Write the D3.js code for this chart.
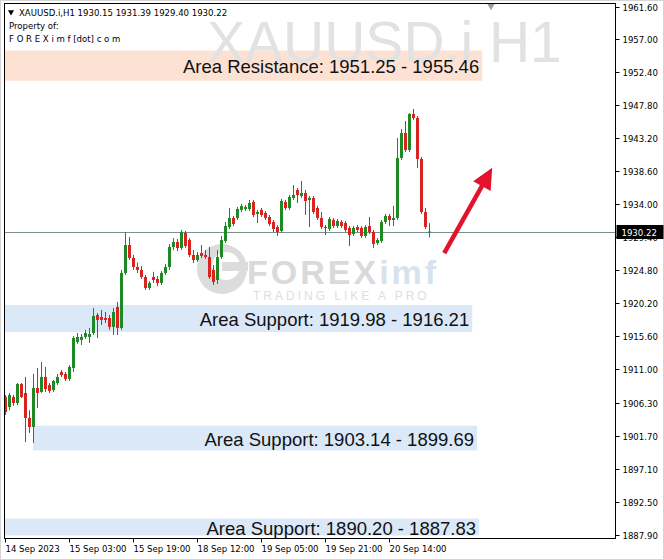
<!DOCTYPE html>
<html><head><meta charset="utf-8">
<script src="https://cdn.jsdelivr.net/npm/d3@7"></script>
<style>
html,body{margin:0;padding:0;background:#fff;}
svg{display:block;}
.ax{font-family:"DejaVu Sans Condensed","Liberation Sans",Arial,sans-serif;font-size:9.5px;fill:#000;}
</style></head>
<body>
<svg id="c" width="664" height="560"></svg>
<script>
// ---------- data ----------
const symbol = "XAUUSD.i";
const timeframe = "H1";
const opens = [1907.15,1905.75,1907.15,1906.31,1908.96,1907.71,1904.22,1902.96,1908.40,1907.85,1909.94,1908.82,1908.12,1909.10,1910.63,1910.36,1909.66,1911.19,1914.82,1915.10,1915.52,1915.52,1916.07,1918.58,1918.30,1918.16,1918.16,1916.91,1919.70,1916.77,1924.44,1928.34,1926.53,1925.28,1924.86,1923.88,1922.35,1923.88,1923.60,1923.05,1924.44,1925.28,1928.07,1928.76,1927.93,1930.02,1929.04,1926.95,1926.25,1927.23,1926.95,1926.67,1924.86,1923.46,1926.67,1928.90,1930.85,1932.11,1932.11,1933.23,1933.36,1933.36,1934.34,1932.67,1933.23,1932.81,1932.25,1931.55,1930.85,1930.30,1934.34,1933.50,1934.90,1936.01,1935.18,1935.60,1934.62,1934.90,1933.50,1932.11,1930.85,1930.58,1931.83,1930.99,1931.55,1931.41,1930.72,1929.88,1930.85,1930.72,1929.60,1930.99,1930.16,1928.62,1928.90,1931.55,1932.39,1931.83,1932.11,1940.48,1943.96,1941.59,1946.61,1946.05,1940.34,1932.95,1930.15];
const highs = [1907.43,1907.71,1907.43,1909.10,1909.10,1909.94,1905.30,1910.36,1911.19,1912.03,1911.33,1909.10,1909.50,1910.36,1910.90,1910.63,1911.60,1915.65,1916.07,1915.93,1916.50,1916.77,1919.56,1918.86,1919.28,1919.00,1918.58,1919.56,1920.40,1924.86,1930.16,1929.46,1926.95,1925.90,1925.40,1924.16,1923.30,1924.60,1924.00,1924.70,1925.70,1928.48,1929.30,1929.18,1930.44,1930.30,1929.30,1927.65,1927.37,1928.34,1927.65,1928.07,1925.56,1927.65,1929.60,1931.55,1933.50,1932.39,1933.64,1934.06,1933.92,1934.62,1934.62,1933.23,1933.50,1933.09,1932.53,1931.83,1931.13,1934.76,1934.62,1935.32,1936.71,1936.29,1937.27,1936.01,1935.18,1935.18,1933.78,1932.95,1931.13,1932.25,1932.11,1931.97,1931.83,1931.69,1930.99,1930.99,1931.13,1930.99,1931.13,1932.25,1930.44,1929.32,1931.83,1932.67,1932.67,1933.78,1943.27,1944.52,1945.64,1946.75,1947.31,1946.33,1940.62,1933.50,1931.39];
const lows = [1904.64,1905.30,1905.90,1906.00,1907.00,1900.87,1902.13,1900.73,1905.61,1907.71,1907.85,1907.71,1907.85,1908.82,1909.94,1909.38,1909.38,1910.63,1914.55,1914.40,1915.24,1914.70,1915.79,1915.38,1917.19,1917.47,1916.50,1915.79,1915.79,1916.50,1924.16,1926.25,1924.86,1924.44,1923.60,1922.07,1922.07,1923.05,1922.60,1922.77,1924.16,1924.86,1927.65,1927.50,1927.65,1927.93,1926.67,1925.83,1925.97,1926.53,1926.40,1923.60,1922.77,1922.90,1926.40,1928.62,1930.58,1930.99,1931.83,1932.95,1933.09,1933.09,1932.25,1931.41,1932.25,1931.83,1930.99,1930.16,1929.60,1930.02,1933.23,1933.23,1934.62,1934.20,1934.90,1932.53,1930.85,1932.67,1931.83,1930.58,1929.74,1930.30,1930.72,1930.72,1930.72,1930.16,1928.21,1929.60,1930.16,1929.32,1929.32,1929.88,1927.93,1928.34,1928.62,1931.27,1930.99,1930.99,1931.83,1940.20,1941.31,1941.31,1945.78,1939.08,1932.67,1930.58,1929.40];
const closes = [1905.06,1907.43,1906.31,1908.96,1907.15,1904.22,1902.96,1908.40,1907.71,1909.94,1908.26,1907.99,1909.38,1909.94,1910.22,1909.66,1911.33,1915.38,1915.52,1915.52,1916.07,1915.93,1918.44,1917.89,1917.89,1917.89,1916.91,1919.00,1916.77,1924.44,1928.34,1926.53,1925.28,1924.86,1923.88,1922.35,1923.05,1923.46,1923.05,1924.44,1925.28,1928.07,1928.76,1927.93,1930.16,1928.21,1926.95,1926.25,1926.95,1926.81,1926.67,1923.88,1923.19,1926.67,1929.04,1930.99,1932.11,1931.27,1933.36,1933.78,1933.64,1934.20,1932.53,1932.95,1932.53,1932.11,1931.27,1930.58,1930.16,1934.48,1933.50,1935.04,1935.32,1935.32,1935.60,1934.48,1934.90,1932.95,1932.11,1930.85,1930.72,1931.97,1930.99,1931.69,1930.99,1930.44,1929.74,1930.72,1930.44,1929.60,1930.85,1930.16,1928.48,1929.04,1931.55,1932.39,1931.83,1932.11,1940.48,1943.96,1941.59,1946.61,1946.05,1940.34,1932.95,1930.85,1930.22];
const timeTickIndex = [0,16,32,48,64,80,96];
const timeTickLabels = ["14 Sep 2023","15 Sep 03:00","15 Sep 19:00","18 Sep 12:00","19 Sep 05:00","19 Sep 21:00","20 Sep 14:00"];
const priceTickLabels = ["1961.60","1957.00","1952.40","1947.80","1943.20","1938.60","1934.00","1929.40","1924.80","1920.20","1915.60","1911.00","1906.30","1901.70","1897.10","1892.50","1887.90"];
const zoneNames = ["Area Resistance","Area Support","Area Support","Area Support"];
const zoneLow  = [1951.25,1916.21,1899.69,1887.83];
const zoneHigh = [1955.46,1919.98,1903.14,1890.20];
const zoneLabelA = [1951.25,1919.98,1903.14,1890.20];
const zoneLabelB = [1955.46,1916.21,1899.69,1887.83];
const zoneStartIdx = [-2,-2,7,-2];
const zoneEndIdx = [119.3,116.8,118.0,118.5];
const zoneKind = ["res","sup","sup","sup"];
const arrowFrom = {i:109.8, p:1927.2};
const arrowTo = {i:121.8, p:1939.1};

// ---------- layout ----------
const W=664,H=560;
const L=4,T=3,R=615.5,B=538.5;
const svg=d3.select("#c");
const x=d3.scaleLinear().domain([0,106]).range([5,429]);
const y=d3.scaleLinear().domain([1887.9,1961.6]).range([535,6.5]);

svg.append("rect").attr("x",0.5).attr("y",0.5).attr("width",W-1).attr("height",H-1).attr("fill","#fff").attr("stroke","#d4d4d4");

svg.append("defs").append("clipPath").attr("id","plot").append("rect")
  .attr("x",L).attr("y",T).attr("width",R-L).attr("height",B-T);
const g=svg.append("g").attr("clip-path","url(#plot)");

// zones
const zones=zoneNames.map((n,k)=>({n,lo:zoneLow[k],hi:zoneHigh[k],a:zoneLabelA[k],b:zoneLabelB[k],s:zoneStartIdx[k],e:zoneEndIdx[k],kind:zoneKind[k]}));
g.selectAll("rect.zone").data(zones).join("rect").attr("class","zone")
  .attr("x",d=>x(d.s)).attr("width",d=>x(d.e)-x(d.s))
  .attr("y",d=>y(d.hi)).attr("height",d=>y(d.lo)-y(d.hi))
  .attr("fill",d=>d.kind==="res"?"#fde1d3":"#dae8f8");

// watermark symbol
g.append("text").attr("x",207).attr("y",62).text(symbol+" "+timeframe)
  .attr("font-family","Liberation Sans,Arial,sans-serif").attr("font-size",57)
  .attr("fill","#e2e2e2");

// logo watermark
const lg=g.append("g").attr("opacity",0.9);
lg.append("circle").attr("cx",222).attr("cy",269).attr("r",25).attr("fill","#d9d9d9");
lg.append("circle").attr("cx",226).attr("cy",266).attr("r",14).attr("fill","#fff");
lg.append("rect").attr("x",222).attr("y",262).attr("width",26).attr("height",9).attr("fill","#d9d9d9");
const lt=lg.append("text").attr("x",247).attr("y",284).attr("font-family","Liberation Sans,Arial,sans-serif")
  .attr("font-weight","bold").attr("font-size",34).attr("letter-spacing",3);
lt.append("tspan").text("FOREX").attr("fill","#d6d6d6");
lt.append("tspan").text("imf").attr("fill","#d3dfee");
lg.append("text").attr("x",253).attr("y",300).text("TRADING LIKE A PRO")
  .attr("font-family","Liberation Sans,Arial,sans-serif").attr("font-size",12).attr("letter-spacing",3).attr("fill","#dcdcdc");

// zone labels
g.selectAll("text.zl").data(zones).join("text").attr("class","zl")
  .attr("x",d=>x(d.e)-3).attr("y",d=>y((d.lo+d.hi)/2)+1)
  .attr("text-anchor","end").attr("dominant-baseline","central")
  .attr("font-family","Liberation Sans,Arial,sans-serif").attr("font-size",18.5).attr("fill","#111")
  .text(d=>`${d.n}: ${d.a.toFixed(2)} - ${d.b.toFixed(2)}`);

// current price line
const last=closes.length-1;
g.append("line").attr("x1",L).attr("x2",R).attr("y1",Math.round(y(closes[last]))+0.5).attr("y2",Math.round(y(closes[last]))+0.5)
  .attr("stroke","#7b8f8f").attr("stroke-width",1);

// candles
const candles=opens.map((o,i)=>({i,o,h:highs[i],l:lows[i],c:closes[i]}));
const up="#1e8a23", dn="#d8231f";
const cg=g.append("g");
cg.selectAll("line.w").data(candles).join("line").attr("class","w")
  .attr("x1",d=>Math.round(x(d.i))+0.5).attr("x2",d=>Math.round(x(d.i))+0.5)
  .attr("y1",d=>y(d.h)).attr("y2",d=>y(d.l))
  .attr("stroke",d=>d.c>=d.o?up:dn).attr("stroke-width",1);
cg.selectAll("rect.b").data(candles).join("rect").attr("class","b")
  .attr("x",d=>Math.round(x(d.i))-1).attr("width",3)
  .attr("y",d=>y(Math.max(d.o,d.c))).attr("height",d=>Math.max(1,Math.abs(y(d.o)-y(d.c))))
  .attr("fill",d=>d.c>=d.o?up:dn);

// arrow
const ax1=x(arrowFrom.i), ay1=y(arrowFrom.p), ax2=x(arrowTo.i), ay2=y(arrowTo.p);
const dx=ax2-ax1, dy=ay2-ay1, len=Math.hypot(dx,dy), ux=dx/len, uy=dy/len;
const hl=21, hw=10;
const bx=ax2-ux*hl, by=ay2-uy*hl;
g.append("line").attr("x1",ax1).attr("y1",ay1).attr("x2",bx+ux*2).attr("y2",by+uy*2)
  .attr("stroke","#e3132b").attr("stroke-width",4.5);
g.append("path").attr("d",`M${ax2},${ay2}L${bx-uy*hw},${by+ux*hw}L${bx+uy*hw},${by-ux*hw}Z`).attr("fill","#e3132b");

// chart shift marker
svg.append("path").attr("d",d3.symbol(d3.symbolTriangle,28)()).attr("transform",`translate(${x(121.5)},5.5) rotate(180)`).attr("fill","#9a9a9a");

// frame
svg.append("rect").attr("x",L+0.5).attr("y",T+0.5).attr("width",R-L-0.5).attr("height",B-T-0.5).attr("fill","none").attr("stroke","#000");

// price axis
const pa=svg.append("g");
priceTickLabels.forEach(s=>{
  const v=+s, yy=Math.round(y(v))+0.5;
  pa.append("line").attr("x1",R).attr("x2",R+4).attr("y1",yy).attr("y2",yy).attr("stroke","#000");
  pa.append("text").attr("class","ax").attr("x",R+7).attr("y",yy).attr("dominant-baseline","central").text(s);
});
// current price label
const cy=Math.round(y(closes[last]));
pa.append("rect").attr("x",R+1).attr("y",cy-7).attr("width",47).attr("height",14).attr("fill","#000");
pa.append("text").attr("class","ax").attr("x",R+6).attr("y",cy+0.5).attr("dominant-baseline","central").style("fill","#fff").text(closes[last].toFixed(2));

// time axis
const ta=svg.append("g");
timeTickIndex.forEach((idx,k)=>{
  const xx=Math.round(x(idx))+0.5;
  ta.append("line").attr("x1",xx).attr("x2",xx).attr("y1",B).attr("y2",B+4).attr("stroke","#000");
  ta.append("text").attr("class","ax").attr("x",xx).attr("y",548).attr("dominant-baseline","central").text(timeTickLabels[k]);
});

// header
const hd=svg.append("g");
hd.append("path").attr("d",d3.symbol(d3.symbolTriangle,16)()).attr("transform","translate(11,12) rotate(180)").attr("fill","#000");
hd.append("text").attr("class","ax").attr("x",19).attr("y",12).attr("dominant-baseline","central")
  .text(`${symbol},${timeframe}  ${opens[last].toFixed(2)} ${highs[last].toFixed(2)} ${lows[last].toFixed(2)} ${closes[last].toFixed(2)}`);
hd.append("text").attr("class","ax").attr("x",9).attr("y",25).attr("dominant-baseline","central").text("Property of:");
hd.append("text").attr("class","ax").attr("x",9).attr("y",38).attr("dominant-baseline","central").text("F O R E X i m f [dot] c o m");
</script>
</body></html>
